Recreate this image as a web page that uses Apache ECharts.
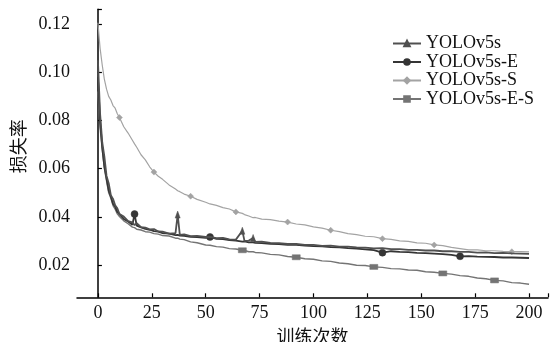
<!DOCTYPE html>
<html><head><meta charset="utf-8">
<script src="https://cdn.jsdelivr.net/npm/echarts@6/dist/echarts.min.js"></script>
<style>html,body{margin:0;padding:0;background:#fff}#c{width:552px;height:342px}</style>
</head><body><div id="c"></div>
<script>
const seriesNames = ['YOLOv5s', 'YOLOv5s-E', 'YOLOv5s-S', 'YOLOv5s-E-S'];
const xTicks = [0, 25, 50, 75, 100, 125, 150, 175, 200];
const yTicks = [0.02, 0.04, 0.06, 0.08, 0.10, 0.12];
const epochs = [0,1,2,3,4,5,6,7,8,9,10,12,14,16,17,18,20,22,24,26,28,30,33,36,37,38,40,43,46,50,52,55,58,61,64,67,68,70,72,73,76,80,84,88,92,96,100,104,108,112,116,120,124,128,132,136,140,144,148,152,156,160,164,168,172,176,180,184,188,192,196,200];
const lossV5s = [
 0.105,0.083,0.071,0.065,0.057,0.054,0.049,0.0475,0.0448,0.0436,0.0412,
 0.0402,0.0383,0.0378,0.0366,0.0374,0.0358,0.0356,0.0349,0.0350,0.0340,
 0.0339,0.0331,0.0333,0.0410,0.0326,0.0328,0.0321,0.0322,0.0317,0.0318,
 0.0312,0.0313,0.0307,0.0306,0.0343,0.0301,0.0302,0.0313,0.0297,0.0298,
 0.0293,0.0292,0.0288,0.0288,0.0284,0.0284,0.0280,0.0281,0.0277,0.0277,
 0.0274,0.0273,0.0270,0.0271,0.0267,0.0267,0.0264,0.0264,0.0261,0.0261,
 0.0258,0.0258,0.0255,0.0255,0.0252,0.0253,0.0250,0.0251,0.0249,0.0248,
 0.0247];
const lossV5sE = [
 0.098,0.080,0.069,0.061,0.056,0.051,0.0485,0.0455,0.0443,0.0421,0.0412,
 0.0392,0.0381,0.0368,0.0412,0.0364,0.0357,0.0351,0.0347,0.0341,0.0339,
 0.0333,0.0331,0.0325,0.0326,0.0323,0.0322,0.0318,0.0317,0.0313,0.0317,
 0.0309,0.0308,0.0304,0.0302,0.0298,0.0299,0.0295,0.0295,0.0293,0.0292,
 0.0289,0.0288,0.0284,0.0284,0.0281,0.0279,0.0278,0.0275,0.0274,0.0271,
 0.0269,0.0266,0.0263,0.0252,0.0258,0.0255,0.0254,0.0251,0.0250,0.0248,
 0.0246,0.0243,0.0237,0.0238,0.0236,0.0235,0.0234,0.0232,0.0232,0.0231,
 0.0230];
const lossV5sS = [
 0.1205,0.110,0.103,0.097,0.093,0.090,0.0885,0.0862,0.0851,0.0828,0.0812,
 0.0774,0.0748,0.0718,0.0703,0.0689,0.0658,0.0637,0.0608,0.0586,0.0569,
 0.0556,0.0533,0.0516,0.0509,0.0505,0.0495,0.0486,0.0473,0.0461,0.0454,
 0.0448,0.0439,0.0433,0.0421,0.0415,0.0410,0.0404,0.0397,0.0398,0.0391,
 0.0389,0.0383,0.0379,0.0371,0.0367,0.0359,0.0354,0.0345,0.0339,0.0331,
 0.0327,0.0320,0.0318,0.0310,0.0307,0.0301,0.0299,0.0293,0.0291,0.0284,
 0.0281,0.0274,0.0269,0.0264,0.0264,0.0260,0.0260,0.0257,0.0256,0.0256,
 0.0255];
const lossV5sES = [
 0.092,0.077,0.068,0.060,0.055,0.050,0.0478,0.0447,0.0432,0.0413,0.0402,
 0.0384,0.0372,0.0358,0.0356,0.0349,0.0346,0.0339,0.0337,0.0331,0.0329,
 0.0323,0.0321,0.0312,0.0312,0.0308,0.0306,0.0297,0.0293,0.0284,0.0283,
 0.0277,0.0275,0.0269,0.0267,0.0262,0.0261,0.0256,0.0256,0.0253,0.0251,
 0.0245,0.0243,0.0236,0.0233,0.0227,0.0225,0.0218,0.0216,0.0209,0.0206,
 0.0200,0.0199,0.0193,0.0191,0.0186,0.0185,0.0180,0.0179,0.0173,0.0171,
 0.0166,0.0163,0.0157,0.0154,0.0147,0.0144,0.0137,0.0135,0.0128,0.0126,
 0.0121];
const markerEpochs = [
 [37, 67, 72],
 [17, 52, 132, 168],
 [10, 26, 43, 64, 88, 108, 132, 156, 192],
 [67, 92, 128, 160, 184]
];
const allLoss = [lossV5s, lossV5sE, lossV5sS, lossV5sES];

const colors = ['#505050', '#353535', '#a3a3a3', '#747474'];
const symbols = ['triangle', 'circle', 'diamond', 'rect'];
const symSizes = [[5, 7], 7, 6, [8, 5]];
const lineWidths = [1.8, 1.8, 1.2, 1.4];
const X_MIN = -9.7, X_MAX = 208.8, Y_MIN = 0.0067, Y_MAX = 0.1261;

const chart = echarts.init(document.getElementById('c'), null, {renderer: 'canvas'});
const serif = '"Liberation Serif", "Times New Roman", serif';
const cjk = '"Noto Sans CJK SC", sans-serif';

const series = seriesNames.map((name, i) => ({
  name,
  type: 'line',
  data: epochs.map((e, k) => [e, allLoss[i][k]]),
  symbol: symbols[i],
  showSymbol: true,
  symbolSize: (v) => markerEpochs[i].includes(v[0]) ? symSizes[i] : 0,
  showAllSymbol: true,
  lineStyle: {color: colors[i], width: lineWidths[i]},
  itemStyle: {color: colors[i], borderColor: colors[i], borderWidth: 0.5},
  z: 10 - i,
  animation: false
}));

chart.setOption({
  animation: false,
  backgroundColor: '#fff',
  grid: {left: 77, right: 4, top: 9.3, bottom: 44.7, containLabel: false, outerBoundsMode: 'none'},
  legend: {
    orient: 'vertical', left: 387, top: 29.5,
    itemWidth: 28, itemHeight: 7, itemGap: 0.5,
    data: seriesNames,
    textStyle: {fontFamily: serif, fontSize: 18, color: '#111', lineHeight: 9}
  },
  xAxis: {
    type: 'value', min: X_MIN, max: X_MAX,
    name: '训练次数', nameLocation: 'middle', nameGap: 25,
    nameTextStyle: {fontFamily: cjk, fontSize: 18, color: '#111'},
    axisLine: {show: true, lineStyle: {color: '#000', width: 1.5}},
    axisTick: {show: true, inside: true, length: 4, lineStyle: {color: '#000', width: 1.2}, customValues: xTicks.concat([X_MAX])},
    axisLabel: {customValues: xTicks, fontFamily: serif, fontSize: 18, color: '#111', margin: 7, formatter: v => String(Math.round(v))},
    splitLine: {show: false}
  },
  yAxis: {
    type: 'value', min: Y_MIN, max: Y_MAX,
    name: '损失率', nameLocation: 'middle', nameGap: 46,
    nameTextStyle: {fontFamily: cjk, fontSize: 18, color: '#111', padding: [0, 0, 0, 14]},
    axisLine: {show: true, lineStyle: {color: '#000', width: 1.5}},
    axisTick: {show: true, inside: true, length: 4, lineStyle: {color: '#000', width: 1.2}, customValues: yTicks.concat([Y_MAX])},
    axisLabel: {customValues: yTicks, fontFamily: serif, fontSize: 18, color: '#111', margin: 7, formatter: v => v.toFixed(2)},
    splitLine: {show: false}
  },
  series
});
</script></body></html>
